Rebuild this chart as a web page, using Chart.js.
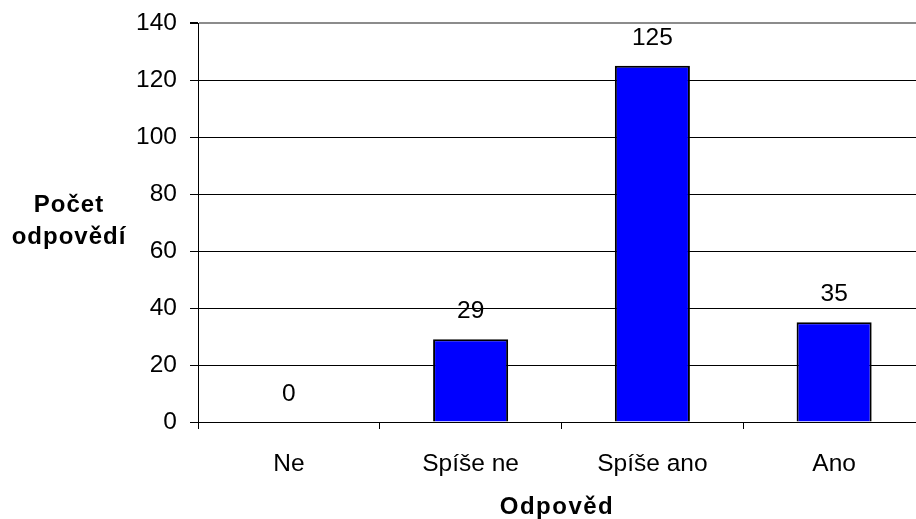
<!DOCTYPE html>
<html>
<head>
<meta charset="utf-8">
<script src="https://cdn.jsdelivr.net/npm/chart.js@4/dist/chart.umd.min.js"></script>
<style>
  html, body { margin: 0; padding: 0; background: #fff; overflow: hidden; }
  #wrap { position: relative; width: 930px; height: 519px; }
</style>
</head>
<body>
<div id="wrap"><canvas id="c" width="930" height="519"></canvas></div>
<script>
// Survey answers and their counts
const categories = ['Ne', 'Spíše ne', 'Spíše ano', 'Ano'];
const counts = [0, 29, 125, 35];
const yTicks = [0, 20, 40, 60, 80, 100, 120, 140];
const yTitle = ['Počet', 'odpovědí'];
const xTitle = 'Odpověd';

const FONT = '"Liberation Sans", Arial, sans-serif';

// Value labels above each bar plus the two axis titles
const annotate = {
  id: 'annotate',
  afterDatasetsDraw(chart) {
    const ctx = chart.ctx;
    const meta = chart.getDatasetMeta(0);
    ctx.save();
    ctx.fillStyle = '#000';
    ctx.font = '24.5px ' + FONT;
    ctx.textAlign = 'center';
    ctx.textBaseline = 'middle';
    meta.data.forEach((bar, i) => {
      ctx.fillText(String(counts[i]), bar.x, bar.y - 28);
    });
    ctx.font = 'bold 24px ' + FONT;
    if ('letterSpacing' in ctx) ctx.letterSpacing = '1px';
    ctx.fillText(yTitle[0], 69, 205);
    ctx.fillText(yTitle[1], 69, 237);
    if ('letterSpacing' in ctx) ctx.letterSpacing = '1.5px';
    ctx.fillText(xTitle, 557, 507);
    ctx.restore();
  }
};

new Chart(document.getElementById('c'), {
  type: 'bar',
  data: {
    labels: categories,
    datasets: [{
      data: counts,
      backgroundColor: '#0000ff',
      borderColor: '#000000',
      borderWidth: 2,
      barPercentage: 0.413,
      categoryPercentage: 1.0
    }]
  },
  options: {
    responsive: false,
    animation: false,
    devicePixelRatio: 1,
    layout: { padding: { top: 23, left: 0, right: 5, bottom: 0 } },
    plugins: {
      legend: { display: false },
      tooltip: { enabled: false }
    },
    scales: {
      x: {
        offset: true,
        grid: {
          offset: true,
          drawOnChartArea: false,
          drawTicks: true,
          tickLength: 7,
          color: '#000'
        },
        border: { color: '#000', width: 1 },
        ticks: {
          color: '#000',
          font: { family: FONT, size: 24.5 },
          padding: 21,
          maxRotation: 0
        },
        afterFit(scale) {
          scale.height = 97;
          scale.paddingLeft = 0;
          scale.paddingRight = 0;
        }
      },
      y: {
        min: 0,
        max: 140,
        afterBuildTicks(scale) { scale.ticks = yTicks.map(v => ({ value: v })); },
        grid: {
          color: ctx => (ctx.tick && ctx.tick.value === 140 ? '#8c8c8c' : '#000'),
          lineWidth: ctx => (ctx.tick && ctx.tick.value === 140 ? 2 : 1),
          tickLength: 8,
          tickColor: '#000'
        },
        border: { color: '#000', width: 1 },
        ticks: {
          color: '#000',
          font: { family: FONT, size: 24.5 },
          padding: 13
        },
        afterFit(scale) {
          scale.width = 198;
          scale.paddingTop = 0;
          scale.paddingBottom = 0;
        }
      }
    }
  },
  plugins: [annotate]
});
</script>
</body>
</html>
